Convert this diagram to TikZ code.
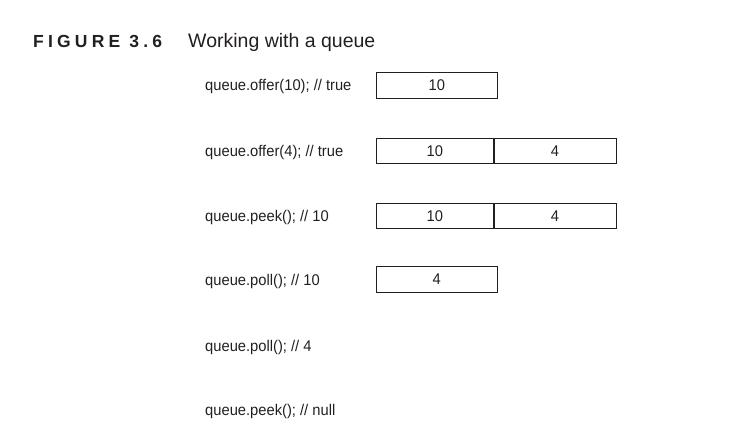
\documentclass[tikz,border=0pt]{standalone}
\usepackage{fontspec}
\setmainfont{Liberation Sans}
\newfontfamily\narrowfont[FakeStretch=0.95]{Liberation Sans}
\definecolor{ink}{HTML}{231F20}
\tikzset{
  call/.style={anchor=west, inner sep=0pt, font=\narrowfont\fontsize{15.5}{18}\selectfont, text=ink},
  cell/.style={draw=ink, semithick, minimum width=121pt, minimum height=25.5pt, inner sep=0pt,
    font=\narrowfont\fontsize{15.5}{18}\selectfont, text=ink}
}
\begin{document}
\begin{tikzpicture}[x=1pt, y=-1pt]
\useasboundingbox (0,0) rectangle (734,431);
% caption
\node[anchor=base west, inner sep=0pt, text=ink, font=\fontsize{17.5}{20}\selectfont\bfseries\addfontfeature{LetterSpace=24}] (fig) at (33,47) {FIGURE 3.6};
\node[anchor=base west, inner sep=0pt, text=ink, font=\fontsize{19.5}{22}\selectfont] (title) at (188,47) {Working with a queue};
% operations
\node[call] (op1) at (205,86) {queue.offer(10); // true};
\node[call] (op2) at (205,152) {queue.offer(4); // true};
\node[call] (op3) at (205,217) {queue.peek(); // 10};
\node[call] (op4) at (205,281) {queue.poll(); // 10};
\node[call] (op5) at (205,347) {queue.poll(); // 4};
\node[call] (op6) at (205,411) {queue.peek(); // null};
% queue contents
\node[cell, anchor=west] (q1a) at (376,85.5) {10};
\node[cell, anchor=west, minimum width=117pt] (q2a) at (376,151) {10};
\node[cell, anchor=west, minimum width=122pt] (q2b) at (q2a.east) {4};
\node[cell, anchor=west, minimum width=117pt] (q3a) at (376,216) {10};
\node[cell, anchor=west, minimum width=122pt] (q3b) at (q3a.east) {4};
\node[cell, anchor=west] (q4a) at (376,279.5) {4};
\end{tikzpicture}
\end{document}
